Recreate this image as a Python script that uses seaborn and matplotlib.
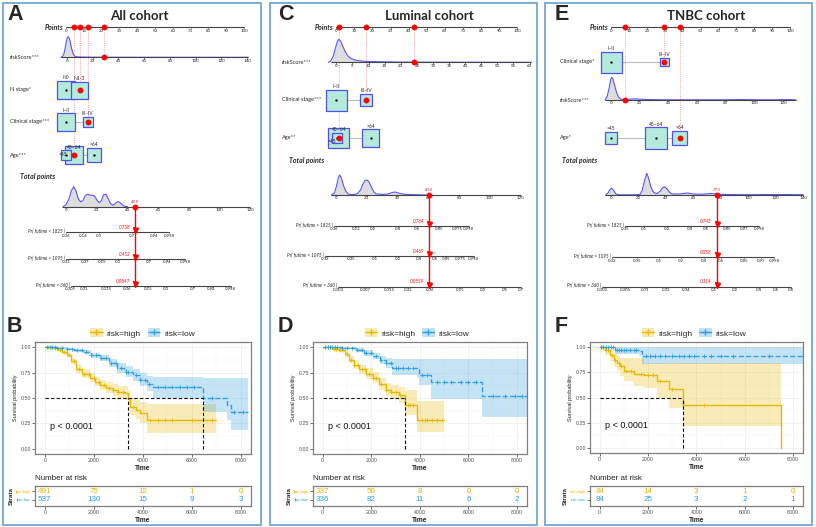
import numpy as np
import matplotlib
matplotlib.use("Agg")
import matplotlib.pyplot as plt
import seaborn as sns
from matplotlib.patches import Rectangle, Patch
from matplotlib.lines import Line2D

# ======================= DATA =======================
# ---- Panel A : All cohort nomogram ----
A_points_ticks = list(range(0, 101, 10))
A_rs_ticks = list(range(0, 141, 20))
A_rs_dens_x = [-4.7, -3.5, -2.5, -1.5, -0.5, 0.3, 1.0, 1.8, 2.6, 3.5, 4.5, 5.5, 6.5, 8, 12, 20, 40, 141]
A_rs_dens_h = [0, 0.04, 0.15, 0.42, 0.78, 0.97, 1.0, 0.92, 0.72, 0.45, 0.22, 0.09, 0.04, 0.02, 0.01, 0.005, 0.002, 0]
A_rs_value = 29
A_nstage_cats = ["N0", "N1-3"]
A_nstage_pts = [0, 7.6]
A_nstage_size = [18, 17]
A_nstage_sel = 1
A_clin_cats = ["I~II", "III~IV"]
A_clin_pts = [0, 12.1]
A_clin_size = [17.5, 10]
A_clin_sel = 1
A_age_cats = ["<45", "45~64", ">64"]
A_age_pts = [0.2, 4.5, 15.5]
A_age_size = [10, 18, 14]
A_age_sel = 1
A_total_ticks = list(range(0, 121, 20))
A_total_dens_x = [-2, 0, 2, 3.5, 5, 6.5, 8, 9.5, 11, 12.5, 14, 15.5, 17, 18.5, 20, 21.5, 23, 24.5, 26, 27.5, 29, 30.5, 32, 33.5, 35, 36.5, 38, 40]
A_total_dens_h = [0, 2, 8, 16, 20, 16, 8, 5, 6, 11, 12.5, 11.5, 11.5, 11, 7, 4, 6, 12, 12.5, 8, 3, 1.5, 3, 5, 4.5, 2, 0.5, 0]
A_total_value = 44.9
A_pr1825_pos = [0, 11.3, 21.5, 43.0, 57.3, 67.3]
A_pr1825_lab = ["0.06", "0.14", "0.3", "0.7", "0.94", "0.998"]
A_pr1095_pos = [0, 12.4, 23.3, 34.1, 54.1, 65.6, 77.5]
A_pr1095_lab = ["0.03", "0.07", "0.15", "0.3", "0.7", "0.94", "0.998"]
A_pr360_pos = [3.1, 11.9, 26.5, 39.5, 53.6, 65.1, 82.9, 94.9, 107.3]
A_pr360_lab = ["0.005", "0.01", "0.025", "0.06", "0.15", "0.3", "0.7", "0.94", "0.998"]
A_pr_values = ["0.738", "0.452", "0.0847"]

# ---- Panel C : Luminal cohort nomogram ----
C_points_ticks = list(range(0, 101, 10))
C_rs_ticks = list(range(0, 61, 5))
C_rs_dens_x = [-2.5, -1.8, -1, -0.3, 0.3, 0.75, 1.3, 2, 2.8, 3.6, 4.5, 6, 8, 11, 15, 20, 30, 60.5]
C_rs_dens_h = [0, 0.05, 0.25, 0.6, 0.9, 1.0, 0.93, 0.7, 0.45, 0.28, 0.17, 0.09, 0.05, 0.03, 0.02, 0.01, 0.005, 0]
C_rs_value = 24
C_clin_cats = ["I~II", "III~IV"]
C_clin_pts = [0, 16.5]
C_clin_size = [21, 12]
C_clin_sel = 1
C_age_cats = ["<45", "45~64", ">64"]
C_age_pts = [0.4, 1.3, 19]
C_age_size = [10.5, 20.5, 17.5]
C_age_sel = 1
C_total_ticks = list(range(0, 121, 20))
C_total_dens_x = [-3, -1, 0.5, 1.5, 2.4, 3.5, 5, 6.5, 8, 9.5, 12, 14, 16, 17.5, 19, 20.2, 21.5, 23, 24.5, 26, 30, 34, 36.5, 38.6, 41, 45, 52, 60]
C_total_dens_h = [0, 2, 10, 17, 20, 17, 9, 3.5, 1, 0.5, 0.5, 1.5, 5, 11, 14.5, 15, 13, 8, 3.5, 1.2, 0.6, 1, 2.5, 3, 1.8, 0.6, 0.3, 0]
C_total_value = 60.4
C_pr1825_pos = [-1.5, 13.0, 23.9, 40.2, 52.7, 66.9, 78.8, 86.4]
C_pr1825_lab = ["0.06", "0.12", "0.2", "0.4", "0.6", "0.85", "0.975", "0.998"]
C_pr1095_pos = [-7.4, 10.0, 25.6, 40.4, 54.0, 64.5, 71.5, 81.2, 89.6]
C_pr1095_lab = ["0.02", "0.05", "0.1", "0.2", "0.4", "0.6", "0.85", "0.975", "0.998"]
C_pr360_pos = [1.3, 18.9, 34.8, 46.9, 61.2, 80.9, 95.7, 109.7, 120.4]
C_pr360_lab = ["0.003", "0.007", "0.015", "0.03", "0.06", "0.15", "0.3", "0.5", "0.7"]
C_pr_values = ["0.764", "0.469", "0.0559"]

# ---- Panel E : TNBC cohort nomogram ----
E_points_ticks = list(range(0, 101, 10))
E_clin_cats = ["I~II", "III~IV"]
E_clin_pts = [0, 29.7]
E_clin_size = [21, 8.5]
E_clin_sel = 1
E_rs_ticks = list(range(0, 121, 20))
E_rs_dens_x = [-4, -2.5, -1, 0, 0.7, 1.5, 2.5, 4, 5.5, 7, 9, 12, 16, 20, 25, 35, 60, 80, 90, 100, 115, 125, 129]
E_rs_dens_h = [0, 0.15, 0.55, 0.9, 1.0, 0.93, 0.7, 0.35, 0.12, 0.04, 0.02, 0.03, 0.05, 0.04, 0.02, 0.01, 0.01, 0.01, 0.02, 0.01, 0.01, 0.02, 0]
E_rs_value = 10
E_age_cats = ["<45", "45~64", ">64"]
E_age_pts = [0, 25.1, 38.3]
E_age_size = [12, 21.5, 14.5]
E_age_sel = 2
E_total_ticks = list(range(0, 141, 20))
E_total_dens_x = [-3.7, -2, -0.5, 0.7, 2, 3.5, 5, 10, 18, 21.5, 23, 24.5, 26.2, 27.5, 29, 30.5, 32, 34, 36, 37.5, 39.2, 41, 43, 45, 50, 55.7, 60, 66, 73, 78, 85, 100, 120, 140]
E_total_dens_h = [0, 2, 5.5, 6.7, 5, 1.5, 0.3, 0.2, 0.2, 0.8, 5, 14, 21.7, 17, 9, 4, 2, 1.5, 4, 7, 8.3, 6, 2.5, 1, 1, 2, 1, 0.8, 1.5, 0.8, 0.5, 0.3, 0.5, 0.3]
E_total_value = 77.1
E_pr1825_pos = [10.4, 24.2, 40.7, 57.4, 69.5, 84.3, 96.9, 107.8]
E_pr1825_lab = ["0.05", "0.1", "0.2", "0.4", "0.6", "0.85", "0.97", "0.998"]
E_pr1095_pos = [1.2, 19.3, 35.1, 50.9, 67.8, 79.9, 96.9, 109.0, 118.7]
E_pr1095_lab = ["0.02", "0.05", "0.1", "0.2", "0.4", "0.6", "0.85", "0.97", "0.998"]
E_pr360_pos = [-6.3, 10.9, 25.4, 40.0, 54.5, 75.1, 90.1, 107.8, 119.9, 130.8]
E_pr360_lab = ["0.002", "0.005", "0.01", "0.02", "0.04", "0.1", "0.2", "0.4", "0.6", "0.8"]
E_pr_values = ["0.743", "0.558", "0.114"]

PR_NAMES = ["Pr( futime < 1825 )", "Pr( futime < 1095 )", "Pr( futime < 360 )"]

# ---- Kaplan-Meier curves ----
risk_times = [0, 2000, 4000, 6000, 8000]

B_high_t = [0, 300, 530, 700, 885, 1050, 1290, 1500, 1840, 2050, 2245, 2500, 2780, 3000, 3265, 3390, 3470, 3700, 3880, 4150, 7000]
B_high_s = [1.0, 0.99, 0.97, 0.95, 0.92, 0.86, 0.78, 0.74, 0.70, 0.66, 0.63, 0.60, 0.58, 0.56, 0.55, 0.50, 0.41, 0.38, 0.35, 0.28, 0.28]
B_high_lo = [1.0, 0.98, 0.96, 0.93, 0.90, 0.83, 0.75, 0.70, 0.66, 0.62, 0.58, 0.55, 0.52, 0.50, 0.48, 0.43, 0.33, 0.29, 0.25, 0.16, 0.15]
B_high_up = [1.0, 1.0, 0.99, 0.97, 0.94, 0.89, 0.82, 0.78, 0.75, 0.71, 0.68, 0.66, 0.64, 0.62, 0.62, 0.58, 0.50, 0.48, 0.46, 0.44, 0.44]
B_high_cens = [150, 250, 400, 600, 800, 1000, 1200, 1400, 1600, 1800, 2000, 2200, 2400, 2600, 2800, 3000, 3200, 3600, 4300, 4600, 4900, 5200, 6000, 6800]
B_low_t = [0, 500, 900, 1200, 1550, 1900, 2245, 2600, 2940, 3300, 3590, 3880, 4150, 4410, 6330, 6450, 7430, 7600, 8300]
B_low_s = [1.0, 0.995, 0.98, 0.97, 0.95, 0.92, 0.89, 0.84, 0.79, 0.76, 0.725, 0.68, 0.64, 0.61, 0.61, 0.50, 0.43, 0.36, 0.36]
B_low_lo = [1.0, 0.99, 0.97, 0.955, 0.93, 0.895, 0.86, 0.80, 0.75, 0.71, 0.67, 0.62, 0.57, 0.50, 0.50, 0.36, 0.28, 0.19, 0.19]
B_low_up = [1.0, 1.0, 0.99, 0.985, 0.97, 0.945, 0.92, 0.88, 0.84, 0.81, 0.78, 0.75, 0.72, 0.71, 0.71, 0.70, 0.70, 0.70, 0.70]
B_low_cens = [100, 200, 300, 400, 500, 700, 900, 1100, 1300, 1500, 1700, 1900, 2100, 2300, 2500, 2700, 2900, 3100, 3300, 3400, 3700, 3900, 4100, 4250, 4600, 4900, 5200, 5500, 5800, 6100, 6800, 7700, 8100]
B_medians = [3390, 6450]
B_risk_high = [491, 75, 12, 1, 0]
B_risk_low = [537, 130, 15, 9, 3]
B_strata = ["lpp=high", "lpp=low"]

D_high_t = [0, 400, 685, 900, 1095, 1300, 1505, 1800, 2050, 2300, 2585, 2800, 3145, 3380, 3405, 3815, 3900, 5000]
D_high_s = [1.0, 0.985, 0.97, 0.93, 0.875, 0.82, 0.78, 0.74, 0.70, 0.64, 0.58, 0.56, 0.53, 0.50, 0.43, 0.43, 0.285, 0.285]
D_high_lo = [1.0, 0.97, 0.95, 0.90, 0.84, 0.78, 0.74, 0.69, 0.65, 0.58, 0.52, 0.49, 0.45, 0.41, 0.33, 0.33, 0.17, 0.17]
D_high_up = [1.0, 1.0, 0.99, 0.96, 0.91, 0.86, 0.82, 0.79, 0.76, 0.70, 0.65, 0.63, 0.61, 0.60, 0.58, 0.58, 0.47, 0.47]
D_high_cens = [100, 200, 300, 450, 550, 700, 850, 1000, 1150, 1300, 1450, 1600, 1750, 1900, 2050, 2200, 2400, 2600, 2800, 3000, 3200, 3500, 3600, 3700, 4100, 4200, 4300, 4500, 4700, 4900]
D_low_t = [0, 800, 1370, 1700, 2050, 2350, 2600, 2870, 3900, 3965, 4445, 6500, 6565, 8400]
D_low_s = [1.0, 0.99, 0.97, 0.94, 0.91, 0.87, 0.84, 0.79, 0.79, 0.73, 0.66, 0.66, 0.52, 0.52]
D_low_lo = [1.0, 0.98, 0.95, 0.915, 0.88, 0.83, 0.79, 0.73, 0.70, 0.63, 0.49, 0.49, 0.31, 0.31]
D_low_up = [1.0, 1.0, 0.99, 0.97, 0.94, 0.91, 0.89, 0.885, 0.885, 0.88, 0.88, 0.88, 0.885, 0.885]
D_low_cens = [100, 200, 300, 400, 500, 600, 800, 1000, 1200, 1400, 1600, 1800, 2000, 2200, 2400, 2600, 2800, 3000, 3100, 3300, 3500, 3700, 4100, 4300, 4700, 5000, 5300, 5700, 6000, 6300, 7000, 7500, 7900, 8200]
D_medians = [3390]
D_risk_high = [337, 50, 8, 0, 0]
D_risk_low = [336, 82, 11, 6, 2]
D_strata = ["lpp=high", "lpp=low"]

F_high_t = [0, 235, 440, 580, 700, 855, 995, 1410, 1825, 2375, 2860, 3455, 7490]
F_high_s = [1.0, 0.97, 0.925, 0.875, 0.84, 0.81, 0.76, 0.73, 0.72, 0.66, 0.58, 0.43, 0.0]
F_high_lo = [1.0, 0.92, 0.86, 0.80, 0.76, 0.71, 0.66, 0.61, 0.59, 0.50, 0.40, 0.22, 0.22]
F_high_up = [1.0, 1.0, 0.98, 0.94, 0.91, 0.89, 0.89, 0.89, 0.84, 0.84, 0.84, 0.84, 0.84]
F_high_cens = [100, 250, 350, 500, 650, 800, 900, 1100, 1300, 1700, 2000, 2200, 2500, 3000, 4300]
F_low_t = [0, 620, 1615, 1755, 8400]
F_low_s = [1.0, 0.97, 0.96, 0.915, 0.915]
F_low_lo = [1.0, 0.93, 0.91, 0.83, 0.83]
F_low_up = [1.0, 1.0, 1.0, 1.0, 1.0]
F_low_cens = [50, 150, 250, 350, 450, 550, 700, 800, 900, 1000, 1100, 1250, 1400, 1500, 1900, 2100, 2300, 2500, 2700, 3000, 3300, 3500, 3700, 3900, 4300, 4600, 5000, 5500, 7000]
F_medians = [3455]
F_risk_high = [84, 14, 3, 1, 0]
F_risk_low = [84, 25, 3, 2, 1]
F_strata = ["risk=high", "risk=low"]

# ======================= STYLE =======================
W, H = 816, 527
sns.set_style("white")
plt.rcParams["font.family"] = ["Liberation Sans", "DejaVu Sans"]
NF = ["Lato", "DejaVu Sans"]
HIGH = "#E7B800"
LOW = "#2E9FDF"
RED = "#FF0000"
AXC = "#444444"
BOX_F = "#B4EADB"
BOX_E = "#5050EE"
DENS = "#5555FF"

fig = plt.figure(figsize=(W / 100, H / 100), dpi=100)


def frac(x0, y0, x1, y1):
    return [x0 / W, 1 - y1 / H, (x1 - x0) / W, (y1 - y0) / H]


ov = fig.add_axes([0, 0, 1, 1])
ov.set_xlim(0, W)
ov.set_ylim(H, 0)
ov.axis("off")
for bx0, bx1 in [(3, 261), (270, 537), (545, 812)]:
    ov.add_patch(Rectangle((bx0, 3), bx1 - bx0, 522, fill=False, edgecolor="#7AAED6", lw=1.4))


def block(x0, x1, y0, y1, origin, scale):
    ax = fig.add_axes(frac(x0, y0, x1, y1))
    ax.set_xlim((x0 - origin) / scale, (x1 - origin) / scale)
    ax.set_ylim(y1, y0)
    ax.axis("off")
    ax.patch.set_alpha(0)
    return ax


def draw_scale(ax, y, ticks, labels, lo, hi, fs=3.2):
    ax.plot([lo, hi], [y, y], color=AXC, lw=0.8, solid_capstyle="butt", zorder=2)
    for t, l in zip(ticks, labels):
        ax.plot([t, t], [y, y + 1.2], color=AXC, lw=0.5, zorder=2)
        ax.text(t, y + 1.5, l, ha="center", va="top", fontsize=fs, color="#222222", family=NF)


def draw_density(ax, y, dx, dh, hmax):
    dh = np.asarray(dh, float)
    top = y - dh / dh.max() * hmax
    ax.fill_between(dx, top, y, color="#DDDDDD", lw=0, zorder=1)
    ax.plot(dx, top, color=DENS, lw=0.8, zorder=2)


def nomogram(bounds, letter, letter_x, title, title_x, pts_org, pts_scale, pts_y, pts_ticks,
             label_x, rows, total, prs, total_label_xy):
    x0, x1 = bounds
    ov.text(letter_x, 14, letter, fontsize=15.5, fontweight="bold", ha="left", va="center")
    ov.text(title_x, 16, title, fontsize=9.5, fontweight="bold", ha="center", va="center", family=NF)
    P = block(x0, x1, 5, 172, pts_org, pts_scale)
    draw_scale(P, pts_y, pts_ticks, [str(t) for t in pts_ticks], pts_ticks[0], pts_ticks[-1])
    P.text(pts_ticks[0] - 3 / pts_scale, pts_y, "Points", ha="right", va="center",
           fontsize=5.0, fontweight="bold", fontstyle="italic", family=NF)
    for r in rows:
        y = r["y"]
        ov.text(label_x, y, r["label"], ha="left", va="center", fontsize=4.1, family=NF)
        if r["kind"] == "cont":
            R = block(x0, x1, 5, 172, r["org"], r["scale"])
            draw_density(R, y, r["dx"], r["dh"], r["hmax"])
            draw_scale(R, y, r["ticks"], [str(t) for t in r["ticks"]], r["lo"], r["hi"])
            R.plot(r["value"], y, "o", color=RED, ms=3.2, zorder=6)
            p = (r["org"] + r["scale"] * r["value"] - pts_org) / pts_scale
        else:
            cats, pts, sizes, sel = r["cats"], r["pts"], r["sizes"], r["sel"]
            P.plot([min(pts), max(pts)], [y, y], color="#BBBBBB", lw=0.8, zorder=1)
            order = np.argsort(sizes)[::-1]
            for k, i in enumerate(order):
                s = sizes[i]
                P.add_patch(Rectangle((pts[i] - s / 2 / pts_scale, y - s / 2), s / pts_scale, s,
                                      facecolor=BOX_F, edgecolor=BOX_E, lw=0.9, zorder=2 + k))
                P.plot(pts[i], y, "o", color="black", ms=0.7, zorder=2.5 + k)
            for i, c in enumerate(cats):
                ov_ = r.get("over", {}).get(c)
                if ov_ is None:
                    P.text(pts[i], y - sizes[i] / 2 - 0.6, c, ha="center", va="bottom",
                           fontsize=3.5, family=NF, zorder=10)
                else:
                    P.text(pts[i] + ov_[0] / pts_scale, y + ov_[1], c, ha="center", va="center",
                           fontsize=3.5, family=NF, zorder=10)
            P.plot(pts[sel], y, "o", color=RED, ms=3.2, zorder=12)
            p = pts[sel]
        P.plot([p, p], [pts_y, y], ls=":", color="#FF7F7F", lw=0.6, zorder=1)
        P.plot(p, pts_y, "o", color=RED, ms=3.2, zorder=6)

    ov.text(total_label_xy[0], total_label_xy[1], "Total points", ha="left", va="center",
            fontsize=5.0, fontweight="bold", fontstyle="italic", family=NF)
    T = block(x0, x1, 165, 300, total["org"], total["scale"])
    ty = total["y"]
    draw_density(T, ty, total["dx"], total["dh"], total["hmax"])
    draw_scale(T, ty, total["ticks"], [str(t) for t in total["ticks"]], total["lo"], total["hi"])
    v = total["value"]
    T.plot([v, v], [ty, prs[-1]["y"]], color=RED, lw=1.0, zorder=5)
    T.plot(v, ty, "o", color=RED, ms=3.2, zorder=6)
    T.text(v, ty - 4.5, f"{v:.1f}", color=RED, fontsize=3.0, ha="center", va="center",
           fontstyle="italic", family=NF)
    for pr in prs:
        y = pr["y"]
        draw_scale(T, y, pr["pos"], pr["lab"], pr["pos"][0], pr["pos"][-1])
        T.text(pr["pos"][0] - 1 / total["scale"], y - 1, pr["name"], ha="right", va="center",
               fontsize=3.3, fontstyle="italic", family=NF)
        T.plot(v, y - 2, "v", color=RED, ms=3.6, zorder=7)
        T.text(v - 5 / total["scale"], y - 4.8, pr["val"], color=RED, fontsize=3.3, ha="right",
               va="center", fontstyle="italic", family=NF)


# ---------------- Panel A ----------------
nomogram(
    (3, 261), "A", 7, "All cohort", 139.5, 66, 1.78, 27, A_points_ticks, 10,
    [
        dict(kind="cont", label="riskScore***", y=57.3, org=67, scale=1.286, ticks=A_rs_ticks,
             lo=-4.5, hi=141, dx=A_rs_dens_x, dh=A_rs_dens_h, hmax=20.6, value=A_rs_value),
        dict(kind="cat", label="N stage*", y=90, cats=A_nstage_cats, pts=A_nstage_pts,
             sizes=A_nstage_size, sel=A_nstage_sel),
        dict(kind="cat", label="Clinical stage***", y=122, cats=A_clin_cats, pts=A_clin_pts,
             sizes=A_clin_size, sel=A_clin_sel),
        dict(kind="cat", label="Age***", y=155, cats=A_age_cats, pts=A_age_pts, sizes=A_age_size,
             sel=A_age_sel, over={"<45": (-3.5, -1), "45~64": (0.5, -7.5)}),
    ],
    dict(org=66, scale=1.535, y=206.7, ticks=A_total_ticks, lo=-2.8, hi=120,
         dx=A_total_dens_x, dh=A_total_dens_h, hmax=20, value=A_total_value),
    [
        dict(y=232.3, name=PR_NAMES[0], pos=A_pr1825_pos, lab=A_pr1825_lab, val=A_pr_values[0]),
        dict(y=259, name=PR_NAMES[1], pos=A_pr1095_pos, lab=A_pr1095_lab, val=A_pr_values[1]),
        dict(y=286, name=PR_NAMES[2], pos=A_pr360_pos, lab=A_pr360_lab, val=A_pr_values[2]),
    ],
    (20, 176.7),
)

# ---------------- Panel C ----------------
nomogram(
    (270, 537), "C", 278, "Luminal cohort", 429, 336.3, 1.807, 27.3, C_points_ticks, 282,
    [
        dict(kind="cont", label="riskScore***", y=62.3, org=336.3, scale=3.22, ticks=C_rs_ticks,
             lo=-1.5, hi=60.5, dx=C_rs_dens_x, dh=C_rs_dens_h, hmax=23, value=C_rs_value),
        dict(kind="cat", label="Clinical stage***", y=100, cats=C_clin_cats, pts=C_clin_pts,
             sizes=C_clin_size, sel=C_clin_sel),
        dict(kind="cat", label="Age**", y=138, cats=C_age_cats, pts=C_age_pts, sizes=C_age_size,
             sel=C_age_sel, over={"<45": (-5, 3.5), "45~64": (0.5, -8.5)}),
    ],
    dict(org=336, scale=1.536, y=195, ticks=C_total_ticks, lo=-3, hi=120.5,
         dx=C_total_dens_x, dh=C_total_dens_h, hmax=20, value=C_total_value),
    [
        dict(y=226, name=PR_NAMES[0], pos=C_pr1825_pos, lab=C_pr1825_lab, val=C_pr_values[0]),
        dict(y=256, name=PR_NAMES[1], pos=C_pr1095_pos, lab=C_pr1095_lab, val=C_pr_values[1]),
        dict(y=286.7, name=PR_NAMES[2], pos=C_pr360_pos, lab=C_pr360_lab, val=C_pr_values[2]),
    ],
    (288.7, 160.7),
)

# ---------------- Panel E ----------------
nomogram(
    (545, 812), "E", 555, "TNBC cohort", 705.7, 611.3, 1.787, 27.3, E_points_ticks, 560,
    [
        dict(kind="cat", label="Clinical stage*", y=62, cats=E_clin_cats, pts=E_clin_pts,
             sizes=E_clin_size, sel=E_clin_sel),
        dict(kind="cont", label="riskScore***", y=100, org=610.7, scale=1.438, ticks=E_rs_ticks,
             lo=-4, hi=129, dx=E_rs_dens_x, dh=E_rs_dens_h, hmax=22.7, value=E_rs_value),
        dict(kind="cat", label="Age*", y=138, cats=E_age_cats, pts=E_age_pts, sizes=E_age_size,
             sel=E_age_sel),
    ],
    dict(org=610.7, scale=1.376, y=195, ticks=E_total_ticks, lo=-4, hi=140,
         dx=E_total_dens_x, dh=E_total_dens_h, hmax=21.7, value=E_total_value),
    [
        dict(y=226, name=PR_NAMES[0], pos=E_pr1825_pos, lab=E_pr1825_lab, val=E_pr_values[0]),
        dict(y=257.3, name=PR_NAMES[1], pos=E_pr1095_pos, lab=E_pr1095_lab, val=E_pr_values[1]),
        dict(y=286.7, name=PR_NAMES[2], pos=E_pr360_pos, lab=E_pr360_lab, val=E_pr_values[2]),
    ],
    (562.3, 160.7),
)


# ======================= KM PANELS =======================
def km_panel(letter, letter_x, box, tbox, curves, medians, risk_high, risk_low, strata, leg_cx):
    ov.text(letter_x, 327, letter, fontsize=15.5, fontweight="bold", ha="left", va="center")
    ax = fig.add_axes(frac(*box))
    for t, s, lo, up, cens, col, ls in curves:
        t = np.asarray(t, float)
        s = np.asarray(s, float)
        ax.fill_between(t, lo, up, step="post", color=col, alpha=0.28, lw=0, zorder=1)
        sns.lineplot(x=t, y=s, ax=ax, color=col, linestyle=ls, linewidth=1.0,
                     drawstyle="steps-post", estimator=None, sort=False, zorder=3)
        idx = np.searchsorted(t, cens, side="right") - 1
        ax.plot(cens, s[idx], ls="none", marker="+", color=col, ms=3, mew=0.6, zorder=4)
    ax.plot([0, max(medians)], [0.5, 0.5], color="black", ls=(0, (3, 2)), lw=0.8, zorder=5)
    for m in medians:
        ax.plot([m, m], [0, 0.5], color="black", ls=(0, (3, 2)), lw=0.8, zorder=5)
    ax.text(200, 0.22, "p < 0.0001", fontsize=6.5, ha="left", va="center", color="#111111")
    ax.set_xlim(-400, 8410)
    ax.set_ylim(-0.05, 1.05)
    ax.set_xticks(risk_times)
    ax.set_yticks([0, 0.25, 0.5, 0.75, 1.0])
    ax.set_yticklabels(["0.00", "0.25", "0.50", "0.75", "1.00"])
    ax.set_xticks([1000, 3000, 5000, 7000], minor=True)
    ax.set_yticks([0.125, 0.375, 0.625, 0.875], minor=True)
    ax.grid(True, which="major", color="#EBEBEB", lw=0.5)
    ax.grid(True, which="minor", color="#F4F4F4", lw=0.3)
    ax.set_axisbelow(True)
    for sp in ax.spines.values():
        sp.set_color("#7F7F7F")
        sp.set_linewidth(0.9)
    ax.tick_params(which="major", labelsize=3.8, length=2, width=0.5, color="#333333",
                   labelcolor="#4D4D4D", pad=1, bottom=True, left=True)
    ax.tick_params(which="minor", length=0)
    ax.set_xlabel("Time", fontsize=4.8, fontweight="bold", labelpad=1, color="#222222")
    ax.set_ylabel("Survival probability", fontsize=4.0, labelpad=2, color="#222222")

    handles = [
        (Patch(facecolor=HIGH, alpha=0.3, edgecolor="none"),
         Line2D([], [], color=HIGH, ls="-", marker="+", ms=4, lw=1)),
        (Patch(facecolor=LOW, alpha=0.3, edgecolor="none"),
         Line2D([], [], color=LOW, ls="--", marker="+", ms=4, lw=1)),
    ]
    fig.legend(handles, ["risk=high", "risk=low"], loc="center",
               bbox_to_anchor=(leg_cx / W, 1 - 333 / H), ncol=2, frameon=False, fontsize=6,
               handlelength=1.5, handleheight=1.3, columnspacing=0.8, handletextpad=0.5)

    ov.text(box[0], 478.5, "Number at risk", fontsize=5.8, ha="left", va="center", color="#222222")
    tx = fig.add_axes(frac(*tbox))
    tx.set_xlim(-400, 8410)
    tx.set_ylim(0.33, 2.56)
    for t, nh, nl in zip(risk_times, risk_high, risk_low):
        tx.text(t, 2, str(nh), color=HIGH, ha="center", va="center", fontsize=5.8)
        tx.text(t, 1, str(nl), color=LOW, ha="center", va="center", fontsize=5.8)
    tx.set_yticks([2, 1])
    tx.set_yticklabels(strata)
    for lab, col in zip(tx.get_yticklabels(), [HIGH, LOW]):
        lab.set_color(col)
    tx.set_xticks(risk_times)
    tx.grid(True, axis="x", color="#EBEBEB", lw=0.5)
    tx.set_axisbelow(True)
    for sp in tx.spines.values():
        sp.set_color("#7F7F7F")
        sp.set_linewidth(0.9)
    tx.tick_params(axis="x", labelsize=3.8, length=2, width=0.5, color="#333333",
                   labelcolor="#4D4D4D", pad=1, bottom=True)
    tx.tick_params(axis="y", labelsize=3.0, length=2, width=0.5, color="#333333", pad=1, left=True)
    tx.set_xlabel("Time", fontsize=4.8, fontweight="bold", labelpad=1, color="#222222")
    tx.set_ylabel("Strata", fontsize=4.6, fontweight="bold", labelpad=1.5, color="#222222")


km_panel("B", 7, (35, 342, 251, 454), (35, 486, 251, 506),
         [(B_high_t, B_high_s, B_high_lo, B_high_up, B_high_cens, HIGH, "-"),
          (B_low_t, B_low_s, B_low_lo, B_low_up, B_low_cens, LOW, "--")],
         B_medians, B_risk_high, B_risk_low, B_strata, 142.5)

km_panel("D", 278, (313, 342, 527, 454), (313, 486, 527, 506),
         [(D_high_t, D_high_s, D_high_lo, D_high_up, D_high_cens, HIGH, "-"),
          (D_low_t, D_low_s, D_low_lo, D_low_up, D_low_cens, LOW, "--")],
         D_medians, D_risk_high, D_risk_low, D_strata, 417)

km_panel("F", 555, (590, 342, 803, 453), (590, 486, 803, 506),
         [(F_high_t, F_high_s, F_high_lo, F_high_up, F_high_cens, HIGH, "-"),
          (F_low_t, F_low_s, F_low_lo, F_low_up, F_low_cens, LOW, "--")],
         F_medians, F_risk_high, F_risk_low, F_strata, 694)

fig.savefig("out.png", dpi=100)
